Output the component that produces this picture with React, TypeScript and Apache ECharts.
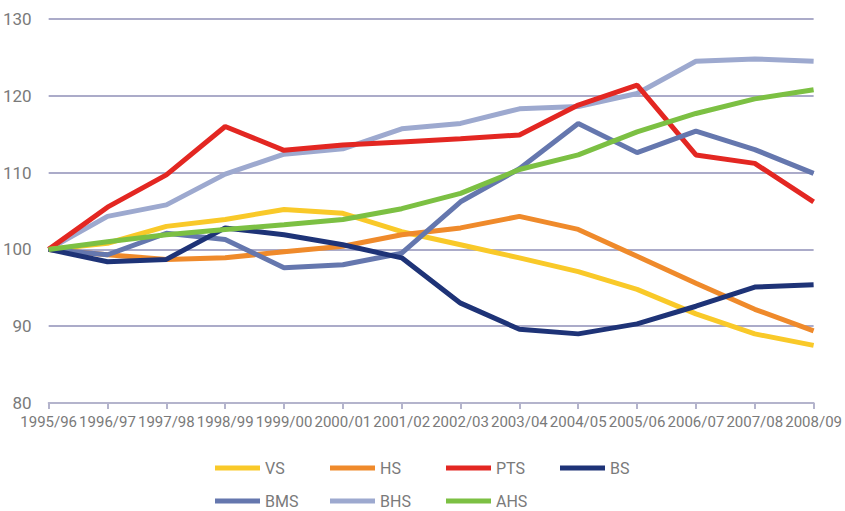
import React, { useEffect, useRef } from "react";
import * as echarts from "echarts";

const categories = ["1995/96","1996/97","1997/98","1998/99","1999/00","2000/01","2001/02","2002/03","2003/04","2004/05","2005/06","2006/07","2007/08","2008/09"];
const yTicks = [80, 90, 100, 110, 120, 130];

const VS = [100, 100.8, 103.0, 103.9, 105.2, 104.7, 102.3, 100.6, 98.9, 97.1, 94.8, 91.6, 89.0, 87.5];
const HS = [100, 99.3, 98.7, 98.9, 99.7, 100.4, 101.9, 102.8, 104.3, 102.6, 99.1, 95.6, 92.2, 89.4];
const PTS = [100, 105.5, 109.7, 116.0, 112.9, 113.6, 114.0, 114.4, 114.9, 118.8, 121.4, 112.3, 111.2, 106.2];
const BS = [100, 98.4, 98.7, 102.8, 101.9, 100.6, 98.9, 93.0, 89.6, 89.0, 90.3, 92.6, 95.1, 95.4];
const BMS = [100, 99.3, 102.1, 101.3, 97.6, 98.0, 99.5, 106.2, 110.5, 116.4, 112.6, 115.4, 113.0, 109.9];
const BHS = [100, 104.3, 105.8, 109.8, 112.4, 113.1, 115.7, 116.4, 118.3, 118.6, 120.3, 124.5, 124.8, 124.5];
const AHS = [100, 101.0, 101.9, 102.6, 103.2, 103.9, 105.3, 107.3, 110.4, 112.3, 115.3, 117.7, 119.6, 120.8];

const seriesDefs = [
  { name: "VS", data: VS, color: "#F9C929" },
  { name: "HS", data: HS, color: "#EF8A2B" },
  { name: "PTS", data: PTS, color: "#E32722" },
  { name: "BS", data: BS, color: "#1E3377" },
  { name: "BMS", data: BMS, color: "#6577AE" },
  { name: "BHS", data: BHS, color: "#9DA9CF" },
  { name: "AHS", data: AHS, color: "#7CC043" },
];

const legendPos = [
  { left: 213, top: 458 },
  { left: 328, top: 458 },
  { left: 444, top: 458 },
  { left: 558, top: 458 },
  { left: 213, top: 491 },
  { left: 328, top: 491 },
  { left: 444, top: 491 },
];

const FONT = "Roboto, 'Liberation Sans', sans-serif";

export default function App() {
  const ref = useRef<HTMLDivElement>(null);
  useEffect(() => {
    if (!ref.current) return;
    const chart = echarts.init(ref.current, undefined, { renderer: "svg" });
    const order = ["BHS", "PTS", "VS", "HS", "BMS", "BS", "AHS"];
    const series = order.map((n) => {
      const d = seriesDefs.find((s) => s.name === n)!;
      return {
        name: d.name,
        type: "line",
        data: d.data,
        symbol: "none",
        lineStyle: { color: d.color, width: 5 },
        itemStyle: { color: d.color },
        z: 3,
      };
    });
    chart.setOption({
      animation: false,
      backgroundColor: "#ffffff",
      grid: { left: 47, right: 27, top: 19, bottom: 108, containLabel: false },
      xAxis: {
        type: "category",
        data: categories,
        boundaryGap: false,
        axisLine: { show: true, lineStyle: { color: "#B4B4CC", width: 2 } },
        axisTick: { show: true, alignWithLabel: true, length: 6, lineStyle: { color: "#B4B4CC", width: 2 } },
        axisLabel: { color: "#7A7A7A", fontSize: 15, fontFamily: FONT, margin: 11, interval: 0 },
        splitLine: { show: false },
      },
      yAxis: {
        type: "value",
        min: 80,
        max: 130,
        interval: 10,
        axisLine: { show: false },
        axisTick: { show: false },
        axisLabel: {
          color: "#7A7A7A",
          fontSize: 17,
          fontFamily: FONT,
          margin: 17,
          formatter: (v: number) => (yTicks.includes(v) ? String(v) : ""),
        },
        splitLine: { show: true, lineStyle: { color: "#ABABC9", width: 2 } },
      },
      legend: seriesDefs.map((d, i) => ({
        data: [d.name],
        left: legendPos[i].left,
        top: legendPos[i].top,
        orient: "horizontal",
        icon: "rect",
        itemWidth: 45,
        itemHeight: 5,
        itemGap: 8,
        padding: 2,
        textStyle: { color: "#7A7A7A", fontSize: 16, fontFamily: FONT },
        selectedMode: false,
      })),
      series,
    });
    return () => chart.dispose();
  }, []);
  return <div ref={ref} style={{ width: 845, height: 511, position: "absolute", left: 0, top: 0 }} />;
}
